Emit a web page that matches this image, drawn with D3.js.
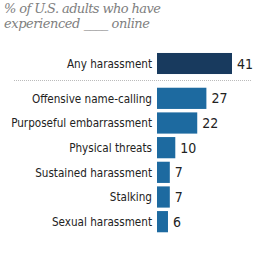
<!DOCTYPE html>
<html>
<head>
<meta charset="utf-8">
<script src="https://cdn.jsdelivr.net/npm/d3@7"></script>
<style>
  body { margin: 0; background: #fff; }
  svg { display: block; }
</style>
</head>
<body>
<svg id="bg" width="260" height="260"></svg>
<script>
// data
var topCategory = ['Any harassment'];
var topValues = [41];
var categories = ['Offensive name-calling', 'Purposeful embarrassment', 'Physical threats',
  'Sustained harassment', 'Stalking', 'Sexual harassment'];
var values = [27, 22, 10, 7, 7, 6];
var titleLines = ['% of U.S. adults who have', 'experienced ____ online'];

var svg = d3.select('#bg');

var xScale = d3.scaleLinear()
  .domain([0, 41])
  .range([157, 232]);

// top bar gets its own band, rest share one
var yTop = d3.scaleBand()
  .domain(topCategory)
  .range([51, 76])
  .paddingInner(0.15)
  .paddingOuter(0.08);

var yScale = d3.scaleBand()
  .domain(categories)
  .range([86, 234])
  .paddingInner(0.14)
  .paddingOuter(0.07);

var titleWidths = [157, 146];

svg.selectAll('.title')
  .data(titleLines)
  .join('text')
  .attr('class', 'title')
  .attr('x', 4)
  .attr('y', (d, i) => 13 + i * 15)
  .attr('font-family', 'DejaVu Serif, Georgia, serif')
  .attr('font-style', 'italic')
  .attr('font-size', '13px')
  .attr('fill', '#808080')
  .attr('textLength', (d, i) => titleWidths[i])
  .attr('lengthAdjust', 'spacing')
  .text(d => d);

function dibujarBarras(scale, cats, vals, color, clase) {
  var rows = svg.selectAll('.' + clase)
    .data(cats.map((c, i) => ({ name: c, value: vals[i] })))
    .join('g')
    .attr('class', clase)
    .attr('transform', d => 'translate(0,' + scale(d.name) + ')');

  rows.append('rect')
    .attr('x', xScale(0))
    .attr('width', d => xScale(d.value) - xScale(0))
    .attr('height', scale.bandwidth())
    .attr('fill', color);

  rows.append('text')
    .attr('x', xScale(0) - 5)
    .attr('y', scale.bandwidth() / 2)
    .attr('dy', '0.36em')
    .attr('text-anchor', 'end')
    .attr('font-family', 'DejaVu Sans Condensed, sans-serif')
    .attr('font-stretch', 'condensed')
    .attr('font-size', '11.6px')
    .attr('fill', '#222')
    .text(d => d.name);

  rows.append('text')
    .attr('x', d => xScale(d.value) + 5)
    .attr('y', scale.bandwidth() / 2)
    .attr('dy', '0.36em')
    .attr('font-family', 'DejaVu Sans Condensed, sans-serif')
    .attr('font-stretch', 'condensed')
    .attr('font-size', '14px')
    .attr('fill', '#222')
    .text(d => d.value);
}

dibujarBarras(yTop, topCategory, topValues, '#183a5e', 'rowTop');
dibujarBarras(yScale, categories, values, '#1d6aa0', 'row');

// dotted separator
svg.append('line')
  .attr('x1', 14)
  .attr('x2', 252)
  .attr('y1', 80.5)
  .attr('y2', 80.5)
  .attr('stroke', '#bbb')
  .attr('stroke-width', 1)
  .attr('stroke-dasharray', '1,1');
</script>
</body>
</html>
